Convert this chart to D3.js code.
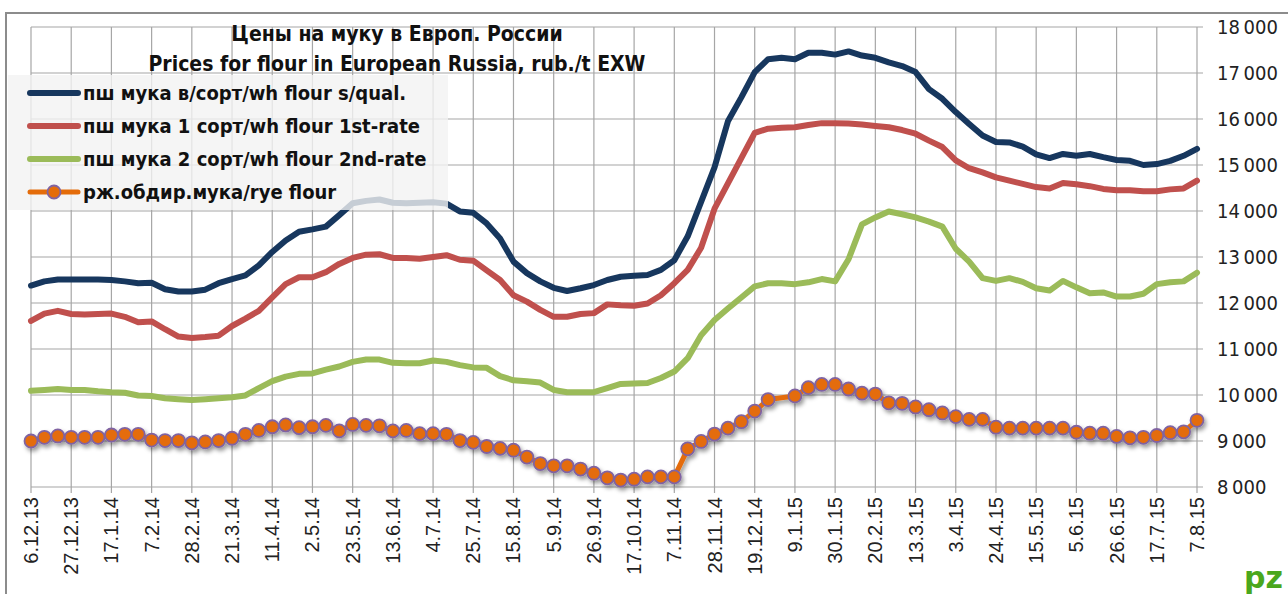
<!DOCTYPE html>
<html>
<head>
<meta charset="utf-8">
<script src="https://cdn.jsdelivr.net/npm/d3@7"></script>
<style>
  body { margin: 0; background: #fff; }
  svg { display: block; }
</style>
</head>
<body>
<script>
// weekly dates (categories)
var dates = ["6.12.13","13.12.13","20.12.13","27.12.13","3.1.14","10.1.14","17.1.14","24.1.14","31.1.14","7.2.14",
  "14.2.14","21.2.14","28.2.14","7.3.14","14.3.14","21.3.14","28.3.14","4.4.14","11.4.14","18.4.14",
  "25.4.14","2.5.14","9.5.14","16.5.14","23.5.14","30.5.14","6.6.14","13.6.14","20.6.14","27.6.14",
  "4.7.14","11.7.14","18.7.14","25.7.14","1.8.14","8.8.14","15.8.14","22.8.14","29.8.14","5.9.14",
  "12.9.14","19.9.14","26.9.14","3.10.14","10.10.14","17.10.14","24.10.14","31.10.14","7.11.14","14.11.14",
  "21.11.14","28.11.14","5.12.14","12.12.14","19.12.14","26.12.14","2.1.15","9.1.15","16.1.15","23.1.15",
  "30.1.15","6.2.15","13.2.15","20.2.15","27.2.15","6.3.15","13.3.15","20.3.15","27.3.15","3.4.15",
  "10.4.15","17.4.15","24.4.15","1.5.15","8.5.15","15.5.15","22.5.15","29.5.15","5.6.15","12.6.15",
  "19.6.15","26.6.15","3.7.15","10.7.15","17.7.15","24.7.15","31.7.15","7.8.15"];

// labels shown on the x axis
var tickLabels = ["6.12.13","27.12.13","17.1.14","7.2.14","28.2.14","21.3.14","11.4.14","2.5.14","23.5.14","13.6.14",
  "4.7.14","25.7.14","15.8.14","5.9.14","26.9.14","17.10.14","7.11.14","28.11.14","19.12.14","9.1.15",
  "30.1.15","20.2.15","13.3.15","3.4.15","24.4.15","15.5.15","5.6.15","26.6.15","17.7.15","7.8.15"];

var yTicks = [8000, 9000, 10000, 11000, 12000, 13000, 14000, 15000, 16000, 17000, 18000];

// пш мука в/сорт
var flourTop = [12380,12470,12510,12510,12510,12510,12500,12470,12430,12440,
  12300,12250,12250,12290,12430,12520,12600,12820,13110,13360,
  13550,13600,13660,13910,14170,14220,14250,14180,14170,14180,
  14190,14160,13990,13960,13730,13400,12900,12650,12470,12330,
  12260,12320,12390,12500,12570,12590,12610,12720,12930,13450,
  14200,14950,15950,16470,17020,17300,17330,17300,17440,17440,
  17400,17470,17380,17330,17230,17150,17020,16650,16440,16150,
  15890,15640,15500,15490,15400,15230,15150,15240,15200,15240,
  15170,15110,15090,15000,15020,15090,15200,15350];

// пш мука 1 сорт
var flourFirst = [11610,11770,11830,11760,11750,11760,11770,11700,11580,11600,
  11430,11270,11240,11260,11290,11500,11660,11830,12120,12410,
  12560,12560,12670,12850,12980,13050,13060,12980,12980,12960,
  13000,13040,12940,12920,12710,12500,12170,12030,11850,11700,
  11700,11760,11780,11970,11950,11940,11990,12170,12430,12720,
  13200,14050,14600,15150,15700,15790,15810,15820,15870,15910,
  15910,15900,15880,15850,15820,15760,15680,15530,15390,15100,
  14930,14840,14730,14660,14590,14520,14490,14610,14580,14540,
  14480,14450,14450,14430,14430,14470,14490,14660];

// пш мука 2 сорт
var flourSecond = [10090,10110,10130,10110,10110,10080,10060,10050,9990,9980,
  9930,9910,9890,9910,9930,9950,9990,10150,10300,10400,
  10460,10470,10550,10620,10720,10770,10770,10700,10690,10690,
  10750,10720,10650,10600,10590,10410,10320,10300,10270,10110,
  10060,10060,10060,10150,10240,10250,10260,10370,10510,10800,
  11300,11630,11880,12120,12360,12430,12430,12410,12450,12520,
  12470,12950,13710,13860,13990,13930,13860,13770,13660,13180,
  12900,12540,12480,12540,12460,12320,12270,12480,12340,12210,
  12230,12140,12140,12200,12410,12450,12470,12660];

// рж. обдир. мука (one week missing)
var ryeFlour = [9000,9080,9110,9080,9080,9080,9130,9145,9145,9020,
  9010,9010,8960,8980,9010,9060,9145,9230,9310,9350,
  9290,9310,9340,9220,9360,9340,9330,9220,9230,9160,
  9160,9145,9010,8970,8880,8840,8800,8650,8510,8460,
  8460,8390,8300,8200,8150,8170,8220,8220,8220,8830,
  8990,9150,9280,9420,9650,9900,null,9980,10160,10230,
  10230,10130,10040,10020,9830,9820,9740,9680,9610,9530,
  9470,9470,9300,9280,9280,9280,9280,9280,9190,9170,
  9170,9100,9070,9080,9120,9180,9200,9450];

var seriesNames = ["пш мука в/сорт/wh flour s/qual.", "пш мука 1 сорт/wh flour 1st-rate",
  "пш мука 2 сорт/wh flour 2nd-rate", "рж.обдир.мука/rye flour"];
var seriesColors = ["#17375e", "#c0504d", "#9bbb59", "#e46c0a"];

var svgWidth = 1288;
var svgHeight = 594;

var svg = d3.select("body")
  .append("svg")
  .attr("width", svgWidth)
  .attr("height", svgHeight);

var defs = svg.append("defs");
var shadow = defs.append("filter")
  .attr("id", "shadow")
  .attr("x", "-10%").attr("y", "-20%")
  .attr("width", "130%").attr("height", "150%");
shadow.append("feDropShadow")
  .attr("dx", 2).attr("dy", 3)
  .attr("stdDeviation", 2)
  .attr("flood-color", "#000")
  .attr("flood-opacity", 0.4);

// outer frame
svg.append("path")
  .attr("d", "M6,594 V13 H1288")
  .attr("fill", "none")
  .attr("stroke", "#8c8c8c")
  .attr("stroke-width", 2);

var xScale = d3.scalePoint()
  .domain(dates)
  .range([31, 1197]);

var yScale = d3.scaleLinear()
  .domain([8000, 18000])
  .range([487, 27]);

// grid
var grid = svg.append("g");
grid.selectAll(".hgrid")
  .data(yTicks)
  .enter()
  .append("line")
  .attr("x1", 31)
  .attr("x2", 1203)
  .attr("y1", d => yScale(d))
  .attr("y2", d => yScale(d))
  .attr("stroke", "#a6a6a6")
  .attr("stroke-width", 1.2);

grid.selectAll(".vgrid")
  .data(tickLabels)
  .enter()
  .append("line")
  .attr("x1", d => xScale(d))
  .attr("x2", d => xScale(d))
  .attr("y1", yScale(18000))
  .attr("y2", yScale(8000) + 6)
  .attr("stroke", "#a6a6a6")
  .attr("stroke-width", 1.2);

// y labels on the right
svg.append("g")
  .selectAll("text")
  .data(yTicks)
  .enter()
  .append("text")
  .attr("x", 1217)
  .attr("y", d => yScale(d) + 7)
  .attr("font-family", "'Liberation Sans Narrow', 'DejaVu Sans Condensed', sans-serif")
  .attr("font-size", 20)
  .attr("fill", "#222")
  .text(d => d3.format(",")(d).replace(",", "\u2009"));

// x labels, rotated
svg.append("g")
  .selectAll("text")
  .data(tickLabels)
  .enter()
  .append("text")
  .attr("transform", d => `translate(${xScale(d) + 7}, 497) rotate(-90)`)
  .attr("text-anchor", "end")
  .attr("font-family", "'Liberation Sans', Arial, sans-serif")
  .attr("font-size", 20)
  .attr("fill", "#222")
  .text(d => d);

// lines
var line = d3.line()
  .defined(d => d.v !== null)
  .x(d => xScale(d.date))
  .y(d => yScale(d.v));

function pts(arr) {
  return arr.map((v, i) => ({ date: dates[i], v: v }));
}

var mainSeries = [flourTop, flourFirst, flourSecond];
mainSeries.forEach(function(arr, k) {
  svg.append("path")
    .datum(pts(arr))
    .attr("d", line)
    .attr("fill", "none")
    .attr("stroke", seriesColors[k])
    .attr("stroke-width", 6)
    .attr("stroke-linejoin", "round")
    .attr("stroke-linecap", "round");
});

var ryePts = pts(ryeFlour).filter(d => d.v !== null);
var ryeGroup = svg.append("g").attr("filter", "url(#shadow)");
ryeGroup.append("path")
  .datum(ryePts)
  .attr("d", line)
  .attr("fill", "none")
  .attr("stroke", seriesColors[3])
  .attr("stroke-width", 5)
  .attr("stroke-linejoin", "round");
ryeGroup.selectAll("circle")
  .data(ryePts)
  .enter()
  .append("circle")
  .attr("cx", d => xScale(d.date))
  .attr("cy", d => yScale(d.v))
  .attr("r", 6.5)
  .attr("fill", seriesColors[3])
  .attr("stroke", "#8064a2")
  .attr("stroke-width", 1.8);

// title
var title = svg.append("g")
  .attr("font-family", "'Liberation Sans Narrow', 'DejaVu Sans Condensed', sans-serif")
  .attr("font-weight", "bold")
  .attr("font-size", 21)
  .attr("fill", "#111")
  .attr("text-anchor", "middle");
title.append("text").attr("x", 397).attr("y", 41).text("Цены на муку в Европ. России");
title.append("text").attr("x", 397).attr("y", 71).text("Prices for flour in European Russia, rub./t EXW");

// legend
var legend = svg.append("g");
legend.append("rect")
  .attr("x", 8).attr("y", 75)
  .attr("width", 440).attr("height", 135)
  .attr("fill", "#f2f2f2")
  .attr("fill-opacity", 0.8);

var legendY = [93, 126, 159, 192];
seriesNames.forEach(function(name, k) {
  var g = legend.append("g").attr("transform", `translate(0, ${legendY[k]})`);
  g.append("line")
    .attr("x1", 30).attr("x2", 78)
    .attr("stroke", seriesColors[k])
    .attr("stroke-width", k === 3 ? 5 : 6)
    .attr("stroke-linecap", "round");
  if (k === 3) {
    g.append("circle")
      .attr("cx", 54).attr("r", 6.5)
      .attr("fill", seriesColors[3])
      .attr("stroke", "#8064a2")
      .attr("stroke-width", 1.8);
  }
  g.append("text")
    .attr("x", 83).attr("y", 7)
    .attr("font-family", "'Liberation Sans Narrow', 'DejaVu Sans Condensed', sans-serif")
    .attr("font-weight", "bold")
    .attr("font-size", 20)
    .attr("fill", "#111")
    .text(name);
});

// logo in the corner
svg.append("text")
  .attr("x", 1244).attr("y", 588)
  .attr("font-family", "'DejaVu Sans', sans-serif")
  .attr("font-weight", "bold")
  .attr("font-size", 30)
  .attr("fill", "#4aa71d")
  .text("pz");
</script>
</body>
</html>
